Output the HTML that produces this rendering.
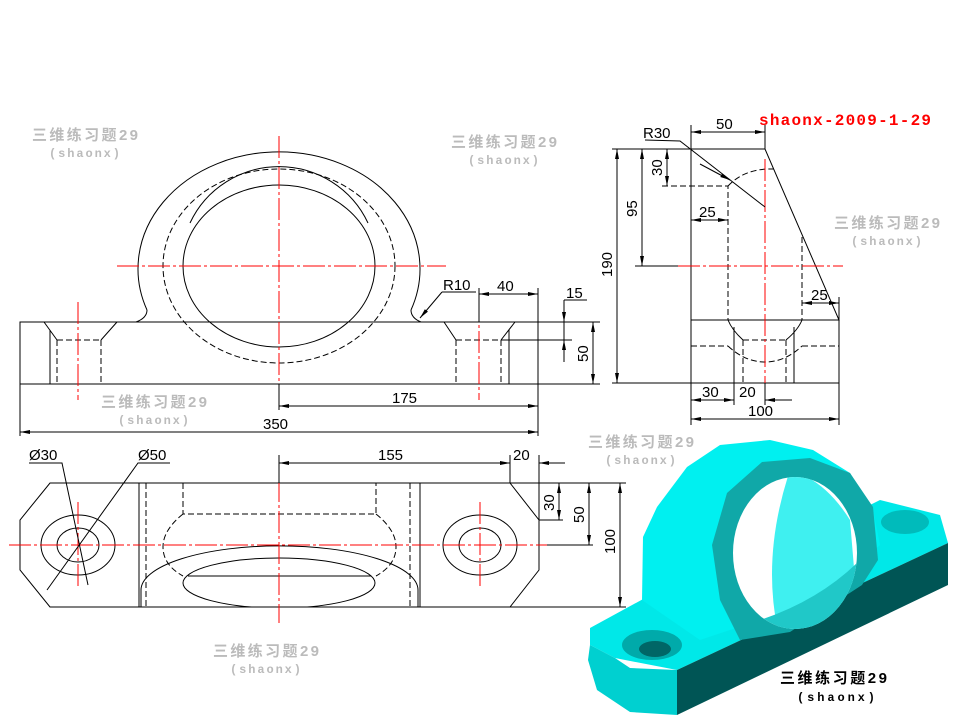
<!DOCTYPE html>
<html><head><meta charset="utf-8"><style>
html,body{margin:0;padding:0;background:#fff;}
svg{display:block;}
.k{stroke:#000;stroke-width:1;fill:none;}
.d{stroke:#000;stroke-width:1;fill:none;stroke-dasharray:6,3;}
.r{stroke:#f00;stroke-width:1;fill:none;stroke-dasharray:22,3,3,3;}
.t{font-family:"Liberation Sans",sans-serif;font-size:15px;fill:#000;}
.w{font-family:"Liberation Sans","Noto Sans CJK SC",sans-serif;font-size:15px;fill:#bbb;font-weight:bold;}
.wm{font-family:"Liberation Mono",monospace;font-size:12px;fill:#bbb;font-weight:bold;}
</style></head><body>
<svg width="960" height="720" viewBox="0 0 960 720" xmlns="http://www.w3.org/2000/svg">
<defs>
<marker id="a" viewBox="0 0 10 6" refX="10" refY="3" markerWidth="10" markerHeight="6" orient="auto-start-reverse" markerUnits="userSpaceOnUse"><path d="M0,1 L10,3 L0,5z" fill="#000"/></marker>
<clipPath id="up"><rect x="0" y="0" width="960" height="322"/></clipPath>
<clipPath id="tv"><rect x="0" y="483" width="960" height="124"/></clipPath>
<clipPath id="hole"><ellipse cx="795" cy="553" rx="62" ry="76"/></clipPath>
</defs>

<g>
<text class="w" x="32" y="140" textLength="106">三维练习题29</text><text class="wm" x="49" y="157" textLength="71">(shaonx)</text>
<text class="w" x="451" y="147" textLength="106">三维练习题29</text><text class="wm" x="468" y="164" textLength="71">(shaonx)</text>
<text class="w" x="101" y="407" textLength="106">三维练习题29</text><text class="wm" x="118" y="424" textLength="71">(shaonx)</text>
<text class="w" x="834" y="228" textLength="106">三维练习题29</text><text class="wm" x="851" y="245" textLength="71">(shaonx)</text>
<text class="w" x="588" y="447" textLength="106">三维练习题29</text><text class="wm" x="605" y="464" textLength="71">(shaonx)</text>
<text class="w" x="213" y="656" textLength="106">三维练习题29</text><text class="wm" x="230" y="673" textLength="71">(shaonx)</text>
</g>

<!-- FRONT VIEW -->
<rect class="k" x="20" y="322" width="518" height="62"/>
<path class="k" d="M136,322 Q147,318 147,310" />
<path class="k" d="M421,322 Q411,318 411,310" />
<g clip-path="url(#up)"><path class="k" d="M147,310 A141,117 0 1 1 411,310"/></g>
<ellipse class="d" cx="279" cy="266" rx="116" ry="97"/>
<ellipse class="k" cx="279" cy="266" rx="96" ry="81"/>
<path class="k" d="M190,223 A98,97 0 0 1 368,223"/>
<path class="k" d="M44,322 L57,340 M117,322 L101,340 M50,330 L50,384"/>
<path class="d" d="M57,340 L101,340 M57,340 L57,384 M101,340 L101,384"/>
<path class="k" d="M444,322 L456,340 M515,322 L501,340 M509,330 L509,384"/>
<path class="d" d="M456,340 L501,340 M456,340 L456,384 M501,340 L501,384"/>
<line class="r" x1="117" y1="266" x2="446" y2="266"/>
<line class="r" x1="279" y1="136" x2="279" y2="384"/>
<line class="r" x1="78" y1="302" x2="78" y2="400"/>
<line class="r" x1="479" y1="300" x2="479" y2="400"/>
<path class="k" d="M279,384 L279,410 M20,384 L20,436 M538,288 L538,436 M479,288 L479,322"/>
<line class="k" x1="279" y1="406" x2="538" y2="406" marker-start="url(#a)" marker-end="url(#a)"/>
<text class="t" x="392" y="403">175</text>
<line class="k" x1="20" y1="432" x2="538" y2="432" marker-start="url(#a)" marker-end="url(#a)"/>
<text class="t" x="263" y="429">350</text>
<line class="k" x1="479" y1="294" x2="538" y2="294" marker-start="url(#a)" marker-end="url(#a)"/>
<text class="t" x="497" y="291">40</text>
<text class="t" x="443" y="290">R10</text>
<path class="k" d="M442,292 L476,292"/>
<line class="k" x1="442" y1="292" x2="420" y2="318" marker-end="url(#a)"/>
<text class="t" x="566" y="298">15</text>
<path class="k" d="M564,300 L587,300 M564,300 L564,362 M501,340 L572,340 M538,322 L600,322 M538,384 L600,384"/>
<line class="k" x1="564" y1="305" x2="564" y2="322" marker-end="url(#a)"/>
<line class="k" x1="564" y1="357" x2="564" y2="340" marker-end="url(#a)"/>
<line class="k" x1="593" y1="322" x2="593" y2="384" marker-start="url(#a)" marker-end="url(#a)"/>
<text class="t" transform="translate(588,362) rotate(-90)">50</text>

<!-- SIDE VIEW -->
<path class="k" d="M691,149 L765,149 L839,320 L691,320 M691,149 L691,383 L839,383 L839,297 M691,320 L839,320"/>
<path class="d" d="M662,186 L728,186 L728,320 M728,186 Q745,168 774,169 M802,237 L802,320"/>
<path class="d" d="M691,346 L728,346 M802,346 L839,346 M728,346 Q745,362 765,362 Q785,362 802,346"/>
<path class="k" d="M728,320 Q732,330 743,340 M802,320 Q798,330 786,340 M734,327 L734,383 M794,327 L794,383"/>
<path class="d" d="M743,340 L786,340 M743,340 L743,383 M786,340 L786,383"/>
<line class="r" x1="765" y1="159" x2="765" y2="383"/>
<line class="r" x1="678" y1="266" x2="843" y2="266"/>
<path class="k" d="M635,266 L678,266"/>
<text class="t" x="643" y="138">R30</text>
<path class="k" d="M645,140 L680,141 L765,207"/>
<line class="k" x1="700" y1="164" x2="730" y2="180" marker-end="url(#a)"/>
<path class="k" d="M691,125 L691,149 M765,125 L765,149"/>
<line class="k" x1="691" y1="132" x2="765" y2="132" marker-start="url(#a)" marker-end="url(#a)"/>
<text class="t" x="716" y="129">50</text>
<path class="k" d="M612,149 L691,149 M612,383 L691,383"/>
<line class="k" x1="617" y1="149" x2="617" y2="383" marker-start="url(#a)" marker-end="url(#a)"/>
<text class="t" transform="translate(612,277) rotate(-90)">190</text>
<line class="k" x1="642" y1="149" x2="642" y2="266" marker-start="url(#a)" marker-end="url(#a)"/>
<text class="t" transform="translate(637,217) rotate(-90)">95</text>
<line class="k" x1="667" y1="149" x2="667" y2="186" marker-start="url(#a)" marker-end="url(#a)"/>
<text class="t" transform="translate(662,176) rotate(-90)">30</text>
<line class="k" x1="691" y1="220" x2="728" y2="220" marker-start="url(#a)" marker-end="url(#a)"/>
<text class="t" x="699" y="217">25</text>
<line class="k" x1="802" y1="303" x2="839" y2="303" marker-start="url(#a)" marker-end="url(#a)"/>
<text class="t" x="811" y="300">25</text>
<path class="k" d="M734,383 L734,405 M765,383 L765,405 M691,383 L691,425 M839,383 L839,425"/>
<line class="k" x1="691" y1="400" x2="734" y2="400" marker-start="url(#a)" marker-end="url(#a)"/>
<line class="k" x1="765" y1="400" x2="792" y2="400"/>
<line class="k" x1="780" y1="400" x2="765" y2="400" marker-end="url(#a)"/>
<text class="t" x="702" y="397">30</text><text class="t" x="739" y="397">20</text>
<line class="k" x1="691" y1="419" x2="839" y2="419" marker-start="url(#a)" marker-end="url(#a)"/>
<text class="t" x="748" y="416">100</text>
<text x="759" y="125" style="font-family:'Liberation Mono',monospace;font-weight:bold;font-size:16px;fill:#f00" textLength="172">shaonx-2009-1-29</text>

<!-- TOP VIEW -->
<path class="k" d="M50,483 L510,483 L539,520 L539,570 L510,607 L50,607 L20,570 L20,520 Z M510,483 L626,483 M510,607 L626,607 M539,520 L563,520"/>
<path class="k" d="M139,483 L139,607 M420,483 L420,607"/>
<path class="d" d="M146,483 L146,607 M410,483 L410,607 M183,483 L183,514 L376,514 L376,483"/>
<path class="d" d="M183,514 Q163,530 163,547 Q163,565 183,576 M376,514 Q396,530 396,547 Q396,565 376,576"/>
<g clip-path="url(#tv)"><ellipse class="k" cx="279" cy="583" rx="96" ry="25"/></g>
<path class="k" d="M188,576 L371,576"/>
<path class="k" d="M141,607 Q141,598 141,590 A138,44 0 0 1 418,590 L418,607"/>
<ellipse class="k" cx="78" cy="545" rx="37" ry="30"/><ellipse class="k" cx="78" cy="545" rx="21" ry="17"/>
<ellipse class="k" cx="480" cy="545" rx="37" ry="30"/><ellipse class="k" cx="480" cy="545" rx="21" ry="17"/>
<line class="r" x1="9" y1="545" x2="547" y2="545"/>
<line class="r" x1="279" y1="480" x2="279" y2="623"/>
<line class="r" x1="78" y1="502" x2="78" y2="588"/>
<line class="r" x1="480" y1="502" x2="480" y2="588"/>
<text class="t" x="29" y="460">Ø30</text><text class="t" x="138" y="460">Ø50</text>
<path class="k" d="M29,463 L62,463 L88,585 M138,463 L170,463 L138,463 L47,590"/>
<path class="k" d="M279,455 L279,483 M510,455 L510,483 M539,455 L539,520 M547,545 L593,545"/>
<line class="k" x1="279" y1="463" x2="510" y2="463" marker-start="url(#a)" marker-end="url(#a)"/>
<text class="t" x="378" y="460">155</text>
<line class="k" x1="539" y1="463" x2="565" y2="463"/>
<line class="k" x1="555" y1="463" x2="539" y2="463" marker-end="url(#a)"/>
<text class="t" x="513" y="460">20</text>
<line class="k" x1="559" y1="483" x2="559" y2="520" marker-start="url(#a)" marker-end="url(#a)"/>
<text class="t" transform="translate(554,511) rotate(-90)">30</text>
<line class="k" x1="589" y1="483" x2="589" y2="545" marker-start="url(#a)" marker-end="url(#a)"/>
<text class="t" transform="translate(584,523) rotate(-90)">50</text>
<line class="k" x1="620" y1="483" x2="620" y2="607" marker-start="url(#a)" marker-end="url(#a)"/>
<text class="t" transform="translate(615,554) rotate(-90)">100</text>

<!-- 3D MODEL -->
<polygon fill="#00e8e8" points="590,628 645,598 700,590 880,500 940,515 948,543 677,670 615,658 590,645"/>
<polygon fill="#00d0d0" points="590,645 615,658 630,668 677,670 677,715 630,712 597,690 588,660"/>
<polygon fill="#005555" points="677,670 948,543 948,585 677,715"/>
<ellipse cx="652" cy="645" rx="30" ry="15" fill="#0aa"/><ellipse cx="655" cy="649" rx="16" ry="8" fill="#066"/>
<ellipse cx="905" cy="522" rx="24" ry="12" fill="#0bb"/>
<polygon fill="#00f0f0" points="642,600 643,537 657,507 687,467 720,445 770,440 813,450 850,473 873,510 880,545 820,600 700,640"/>
<polygon fill="#10a8a8" points="727,493 762,462 810,458 850,473 873,507 878,560 862,585 790,632 740,640 720,600 712,545"/>
<ellipse cx="795" cy="553" rx="62" ry="76" fill="#ffffff"/>
<g clip-path="url(#hole)">
<path d="M790,470 Q825,480 850,520 L860,640 L780,640 Q760,560 790,470Z" fill="#3ff0f0"/>
<path d="M760,620 Q820,600 860,560 L860,640 L760,640Z" fill="#20c8c8"/>
</g>
<text x="780" y="683" style="font-family:'Liberation Sans','Noto Sans CJK SC',sans-serif;font-weight:bold;font-size:15px;fill:#000" textLength="107">三维练习题29</text>
<text x="797" y="701" style="font-family:'Liberation Mono',monospace;font-weight:bold;font-size:12px;fill:#000" textLength="78">(shaonx)</text>
</svg>
</body></html>
